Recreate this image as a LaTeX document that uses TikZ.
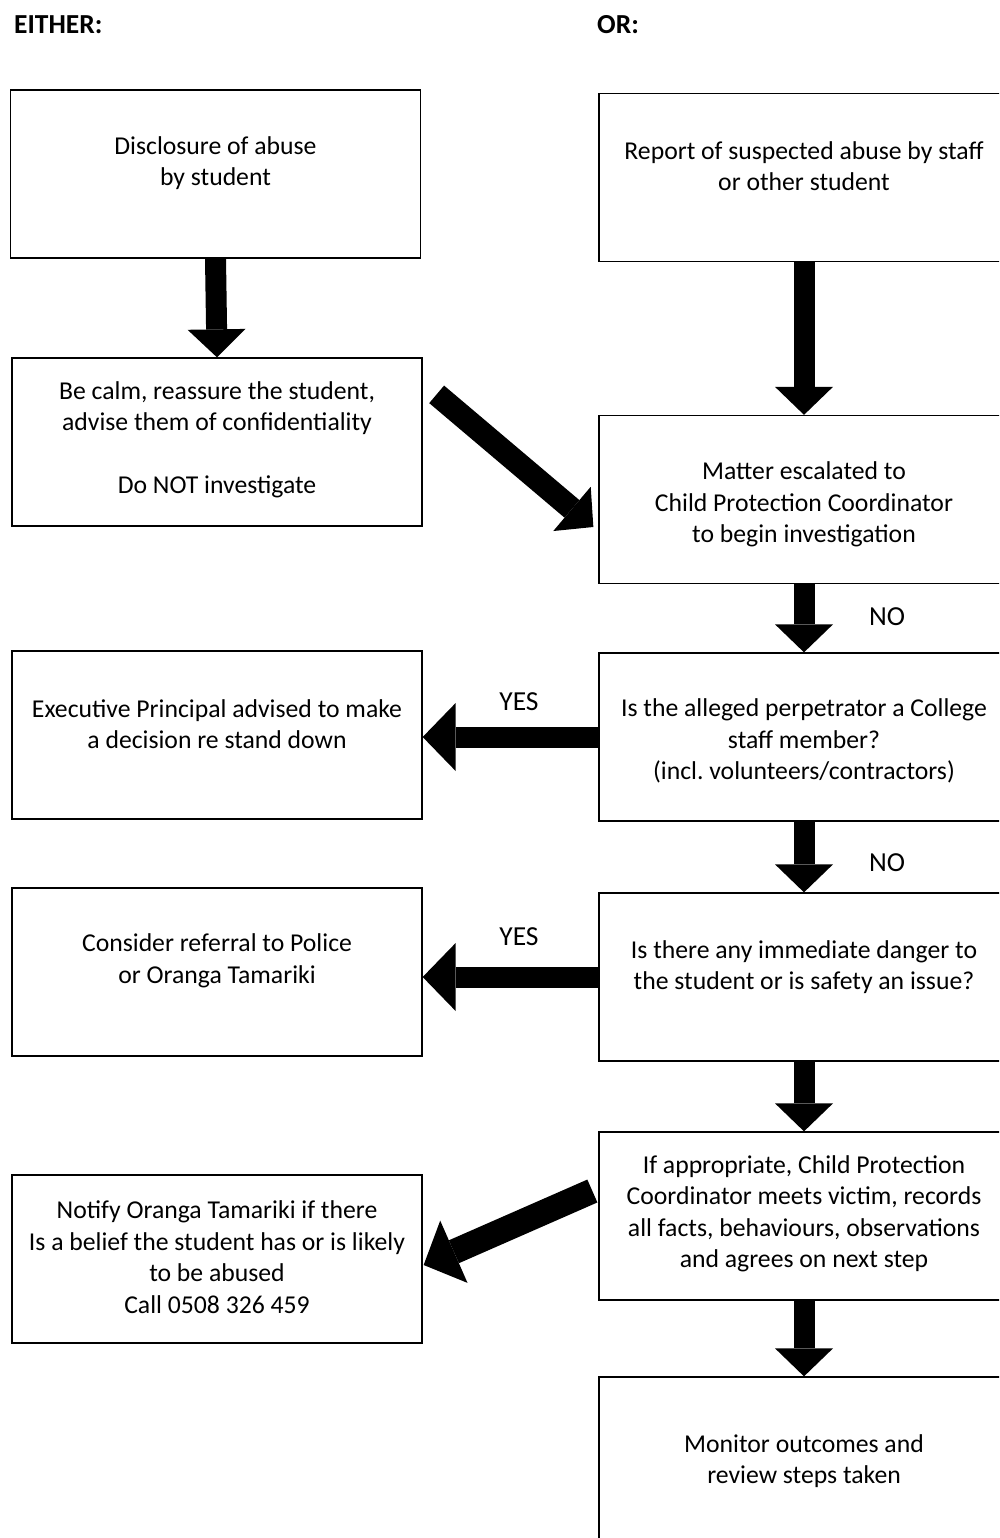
\documentclass[tikz,border=0pt]{standalone}
\usepackage{fontspec}
\setmainfont{Carlito}
\usetikzlibrary{arrows.meta,calc}

\begin{document}
\begin{tikzpicture}[x=1pt,y=-1pt,every node/.style={font=\fontsize{25.7}{31.5}\selectfont}]
    \tikzstyle{box}=[draw,line width=1.3pt,minimum width=410pt,minimum height=168pt];
    \tikzstyle{txt}=[align=center,inner sep=0pt];
    \tikzstyle{lbl}=[inner sep=0pt,font=\fontsize{27.5}{30}\selectfont];
    \tikzstyle{blk}=[line width=21pt,-{Triangle[length=28pt,width=58pt,line width=0pt]}];
    \tikzstyle{blkw}=[line width=21pt,-{Triangle[length=33pt,width=68pt,line width=0pt]}];
    \useasboundingbox (0,0) rectangle (999,1538);
    \clip (0,0) rectangle (999,1538);

    \node[lbl,anchor=west,font=\bfseries\fontsize{27.5}{30}\selectfont] (either) at (14,25) {EITHER:};
    \node[lbl,anchor=west,font=\bfseries\fontsize{27.5}{30}\selectfont] (or) at (597,25) {OR:};

    \node[box,label={[txt,yshift=11pt]center:{Disclosure of abuse\\by student}}] (disc) at (215.5,174) {};
    \node[box,label={[txt,yshift=11.5pt]center:{Report of suspected abuse by staff\\or other student}}] (rep) at (804,177.5) {};
    \node[box,label={[txt,yshift=2.5pt]center:{Be calm, reassure the student,\\advise them of confidentiality\\[31pt]Do NOT investigate}}] (calm) at (217,442) {};
    \node[box,label={[txt,yshift=-5pt]center:{Matter escalated to\\Child Protection Coordinator\\to begin investigation}}] (esc) at (804,499.5) {};
    \node[box,label={[txt,yshift=11pt]center:{Executive Principal advised to make\\a decision re stand down}}] (exec) at (217,735) {};
    \node[box,label={[txt,yshift=-4pt]center:{Is the alleged perpetrator a College\\staff member?\\(incl.\ volunteers/contractors)}}] (staff) at (804,737) {};
    \node[box,label={[txt,yshift=11pt]center:{Consider referral to Police\\or Oranga Tamariki}}] (pol) at (217,972) {};
    \node[box,label={[txt,yshift=10pt]center:{Is there any immediate danger to\\the student or is safety an issue?}}] (dang) at (804,977) {};
    \node[box,label={[txt,yshift=2pt]center:{Notify Oranga Tamariki if there\\Is a belief the student has or is likely\\to be abused\\Call 0508 326 459}}] (notify) at (217,1259) {};
    \node[box,label={[txt,yshift=2pt]center:{If appropriate, Child Protection\\Coordinator meets victim, records\\all facts, behaviours, observations\\and agrees on next step}}] (meet) at (804,1216) {};
    \node[box,minimum height=190pt,label={[txt,yshift=11pt]center:{Monitor outcomes and\\review steps taken}}] (mon) at (804,1472) {};

    \node[lbl] (no1) at (887,617) {NO};
    \node[lbl] (no2) at (887,863) {NO};
    \node[lbl] (yes1) at (519,702) {YES};
    \node[lbl] (yes2) at (519,937) {YES};

    \draw[blk] (disc.south) -- (calm.north);
    \draw[blk] (rep.south) -- (esc.north);
    \draw[blk,line width=23pt] ($(calm.north east)+(14,37)$) -- ($(esc.west)+(-5,27.5)$);
    \draw[blk] (esc.south) -- (staff.north);
    \draw[blkw] (staff.west) -- (staff.west -| exec.east);
    \draw[blk] (staff.south) -- (dang.north);
    \draw[blkw] (dang.west) -- (dang.west -| pol.east);
    \draw[blk] (dang.south) -- (meet.north);
    \draw[blkw,line width=25pt] ($(meet.west)+(-6,-25)$) -- ($(notify.east)+(1,6)$);
    \draw[blk] (meet.south) -- (mon.north);
\end{tikzpicture}
\end{document}
